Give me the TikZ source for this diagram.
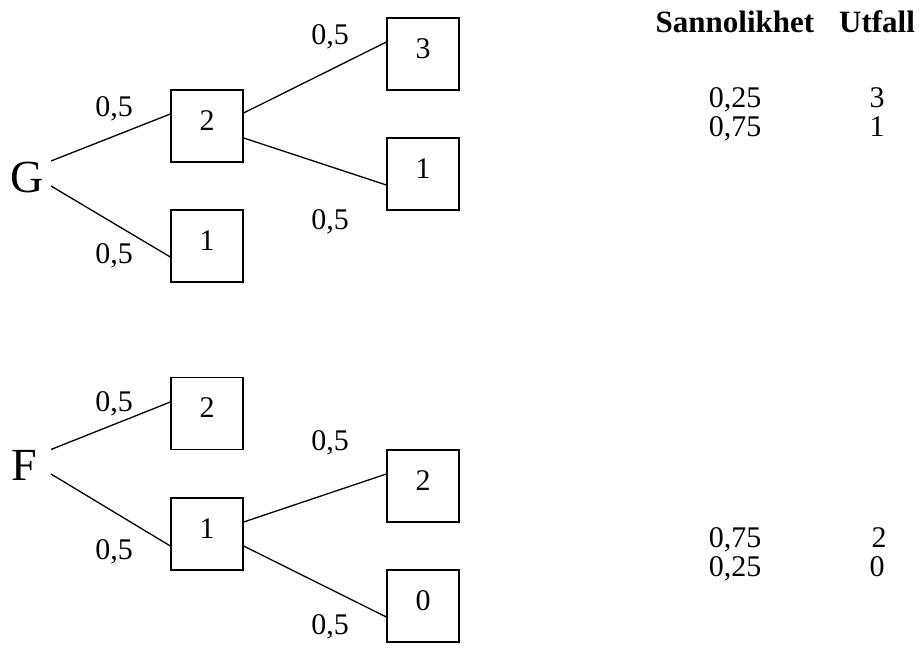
\documentclass[tikz,border=0pt]{standalone}
\usepackage{fontspec}
\setmainfont{Liberation Serif}
\usetikzlibrary{calc}
\begin{document}
\begin{tikzpicture}[x=1pt,y=-1pt,
  lab/.style={anchor=base,inner sep=0pt,font=\fontsize{30}{36}\selectfont},
  big/.style={anchor=base,inner sep=0pt,font=\fontsize{46}{52}\selectfont},
  head/.style={anchor=base,inner sep=0pt,font=\fontsize{31}{36}\selectfont\bfseries},
  box/.style={draw,line width=1.3pt,minimum width=72pt,minimum height=72pt,inner sep=0pt,
    text height=20pt,text depth=12pt,font=\fontsize{30}{36}\selectfont},
  conn/.style={line width=1.3pt}]
\useasboundingbox (0,0) rectangle (922,653);
% G tree
\node[big] (G) at (27,192) {G};
\coordinate (Gu) at (51,161);
\coordinate (Gd) at (51,186);
\node[box] (g2) at (207,126) {2};
\node[box] (g1) at (207,246) {1};
\node[box] (g3) at (423,54) {3};
\node[box] (g1r) at (423,174) {1};
\draw[conn] (Gu) -- ($(g2.west)+(0,-12)$);
\draw[conn] (Gd) -- ($(g1.west)+(0,11)$);
\draw[conn] ($(g2.east)+(0,-13)$) -- ($(g3.west)+(0,-12)$);
\draw[conn] ($(g2.east)+(0,12)$) -- ($(g1r.west)+(0,11)$);
\node[lab] (lg1) at (114,116.7) {0,5};
\node[lab] (lg2) at (114,263.3) {0,5};
\node[lab] (lg3) at (330,45) {0,5};
\node[lab] (lg4) at (330,229.3) {0,5};
% F tree
\node[big] (F) at (24,480) {F};
\coordinate (Fu) at (51,449.5);
\coordinate (Fd) at (51,474);
\node[box] (f2) at (207,413.5) {2};
\node[box] (f1) at (207,534) {1};
\node[box] (f2r) at (423,486) {2};
\node[box] (f0) at (423,606) {0};
\draw[conn] (Fu) -- ($(f2.west)+(0,-11.5)$);
\draw[conn] (Fd) -- ($(f1.west)+(0,12)$);
\draw[conn] ($(f1.east)+(0,-12)$) -- ($(f2r.west)+(0,-12)$);
\draw[conn] ($(f1.east)+(0,12)$) -- ($(f0.west)+(0,11)$);
\node[lab] (lf1) at (114,411.7) {0,5};
\node[lab] (lf2) at (114,559.3) {0,5};
\node[lab] (lf3) at (330,450) {0,5};
\node[lab] (lf4) at (330,634) {0,5};
% table
\node[head] (hs) at (735,32.3) {Sannolikhet};
\node[head] (hu) at (877,32.3) {Utfall};
\node[lab] (p1) at (735,107.3) {0,25};
\node[lab] (u1) at (877,107.3) {3};
\node[lab] (p2) at (735,136.7) {0,75};
\node[lab] (u2) at (877,136.7) {1};
\node[lab] (p3) at (735,547.3) {0,75};
\node[lab] (u3) at (879,547.3) {2};
\node[lab] (p4) at (735,576.7) {0,25};
\node[lab] (u4) at (877,576.7) {0};
\end{tikzpicture}
\end{document}
